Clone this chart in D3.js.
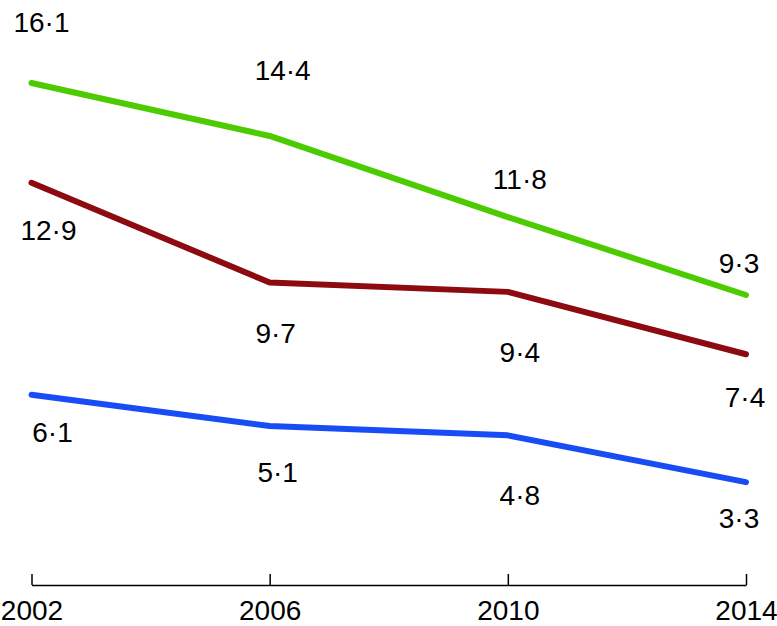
<!DOCTYPE html>
<html>
<head>
<meta charset="utf-8">
<script src="https://cdn.jsdelivr.net/npm/d3@7"></script>
<style>
  body { margin: 0; background: #fff; }
  svg { display: block; }
</style>
</head>
<body>
<div id="chart"></div>
<script>
(function () {

// data
var years = [2002, 2006, 2010, 2014];
var greenValues = [16.1, 14.4, 11.8, 9.3];
var redValues = [12.9, 9.7, 9.4, 7.4];
var blueValues = [6.1, 5.1, 4.8, 3.3];

var width = 777;
var height = 626;

var svg = d3.select("#chart")
  .append("svg")
  .attr("width", width)
  .attr("height", height);

var x = d3.scalePoint().domain(years).range([31.5, 746]);
var y = d3.scaleLinear().domain([0, 18.76]).range([585, 0]);

// label nudges in px (dx, baseline dy) per point, tuned to the reference
var series = [
  { values: greenValues, color: "rgb(76, 204, 0)",
    nudge: [[10, -51], [13, -56], [12, -28], [-7, -22]] },
  { values: redValues, color: "rgb(140, 10, 16)",
    nudge: [[17, 57], [6, 60], [12, 70], [-1, 53]] },
  { values: blueValues, color: "rgb(24, 76, 245)",
    nudge: [[21, 47], [8, 56], [12, 70], [-7, 46]] }
];

var line = d3.line()
  .x(function (d, i) { return x(years[i]); })
  .y(function (d) { return y(d); });

series.forEach(function (s) {
  svg.append("path")
    .datum(s.values)
    .attr("fill", "none")
    .attr("stroke", s.color)
    .attr("stroke-width", 6)
    .attr("stroke-linecap", "round")
    .attr("stroke-linejoin", "round")
    .attr("d", line);
});

// value labels
series.forEach(function (s) {
  svg.append("g")
    .selectAll("text")
    .data(s.values)
    .enter()
    .append("text")
    .attr("x", function (d, i) { return x(years[i]) + s.nudge[i][0]; })
    .attr("y", function (d, i) { return y(d) + s.nudge[i][1]; })
    .attr("text-anchor", "middle")
    .style("font-family", "'Liberation Sans', Arial, sans-serif")
    .style("font-size", "28px")
    .style("fill", "#000")
    .text(function (d) { return d.toFixed(1).replace(".", "\u00b7"); });
});

// x axis, ticks pointing up
var axis = svg.append("g")
  .attr("transform", "translate(0,585)")
  .call(d3.axisBottom(x).tickSizeInner(-11).tickSizeOuter(0).tickPadding(24));

axis.select(".domain").attr("stroke", "#000").attr("stroke-width", 1.5);
axis.selectAll(".tick line").attr("stroke", "#000").attr("stroke-width", 1.5);
axis.selectAll(".tick text")
  .attr("y", 35)
  .attr("dy", 0)
  .style("font-family", "'Liberation Sans', Arial, sans-serif")
  .style("font-size", "28px")
  .style("fill", "#000");

})();
</script>
</body>
</html>
